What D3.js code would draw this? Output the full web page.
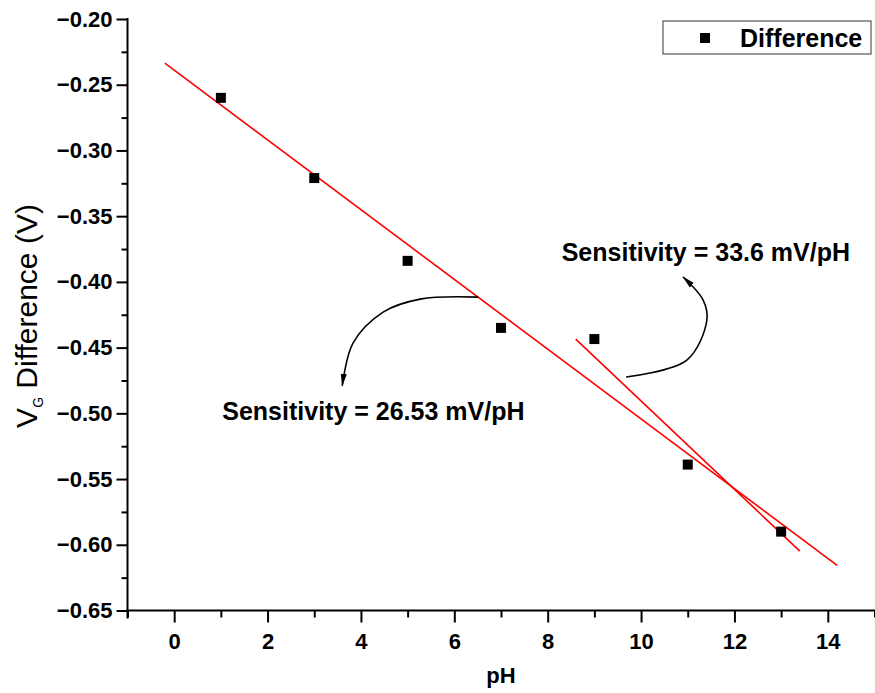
<!DOCTYPE html>
<html>
<head>
<meta charset="utf-8">
<script src="https://cdn.jsdelivr.net/npm/d3@7"></script>
<style>
  html, body { margin: 0; padding: 0; background: #fff; }
  svg { display: block; font-family: "Liberation Sans", Arial, sans-serif; }
</style>
</head>
<body>
<svg id="chart" width="875" height="693"></svg>
<script>
// Measured gate-voltage difference versus pH
const phValues = [1, 3, 5, 7, 9, 11, 13];
const vgDifference = [-0.260, -0.321, -0.384, -0.435, -0.4435, -0.539, -0.590];

// Axis ticks
const xTickValues = [0, 2, 4, 6, 8, 10, 12, 14];
const yTickValues = [-0.20, -0.25, -0.30, -0.35, -0.40, -0.45, -0.50, -0.55, -0.60, -0.65];

// Linear fits: sensitivity (mV/pH), which points each fit covers, and the drawn pH span
const fitSensitivity = [26.53, 33.6];
const fitPointIndex = [[0, 1, 2, 3, 4, 5, 6], [4, 5, 6]];
const fitSpan = [[-0.2, 14.2], [8.6, 13.4]];

// Annotation labels and their curved arrows (in data units: pH, V)
const noteText = ["Sensitivity = 26.53 mV/pH", "Sensitivity = 33.6 mV/pH"];
const noteAnchor = [[1.03, -0.5052], [8.3, -0.3842]];
const arrowPath1 = [[6.51, -0.4116], [5.27, -0.4131], [4.475, -0.423], [3.83, -0.4466], [3.6, -0.479]];
const arrowPath2 = [[9.68, -0.4724], [10.98, -0.4595], [11.41, -0.429], [11.33, -0.4139], [10.9, -0.3963]];

const svg = d3.select("#chart");
const plotLeft = 127.5, plotRight = 874.5, plotTop = 19, plotBottom = 610.5;

const x = d3.scaleLinear().domain([-1, 15]).range([plotLeft, plotRight]);
const y = d3.scaleLinear().domain([-0.20, -0.65]).range([plotTop, plotBottom]);

const tickFont = "bold 22px 'Liberation Sans', Arial, sans-serif";
const noteFont = "bold 25px 'Liberation Sans', Arial, sans-serif";

// Minor ticks
const xMinor = d3.range(-1, 15.01, 1).filter(v => Math.abs(v % 2) === 1);
const yMinor = d3.range(0, 9).map(i => -0.225 - 0.05 * i);

// X axis
const xAxisG = svg.append("g").attr("transform", `translate(0,${plotBottom})`);
xAxisG.append("g")
  .call(d3.axisBottom(x).tickValues(xMinor).tickSize(7).tickFormat(""))
  .call(g => g.select(".domain").remove())
  .selectAll("line").attr("stroke", "#000").attr("stroke-width", 2);
xAxisG.append("g")
  .call(d3.axisBottom(x).tickValues(xTickValues).tickSize(12).tickPadding(11).tickFormat(d3.format("d")))
  .call(g => g.select(".domain").remove())
  .call(g => g.selectAll("line").attr("stroke", "#000").attr("stroke-width", 2))
  .call(g => g.selectAll("text").attr("fill", "#000").style("font", tickFont));
xAxisG.append("line").attr("x1", plotLeft - 1).attr("x2", plotRight + 2)
  .attr("stroke", "#000").attr("stroke-width", 2);

// Y axis
const yAxisG = svg.append("g").attr("transform", `translate(${plotLeft},0)`);
yAxisG.append("g")
  .call(d3.axisLeft(y).tickValues(yMinor).tickSize(6).tickFormat(""))
  .call(g => g.select(".domain").remove())
  .selectAll("line").attr("stroke", "#000").attr("stroke-width", 2);
yAxisG.append("g")
  .call(d3.axisLeft(y).tickValues(yTickValues).tickSize(11).tickPadding(4).tickFormat(d3.format(".2f")))
  .call(g => g.select(".domain").remove())
  .call(g => g.selectAll("line").attr("stroke", "#000").attr("stroke-width", 2))
  .call(g => g.selectAll("text").attr("fill", "#000").style("font", tickFont));
yAxisG.append("line").attr("y1", plotTop - 1).attr("y2", plotBottom + 8)
  .attr("stroke", "#000").attr("stroke-width", 2);

// Axis titles
svg.append("text")
  .attr("x", (x(0) + x(14)) / 2).attr("y", 683)
  .attr("text-anchor", "middle")
  .style("font", "bold 22px 'Liberation Sans', Arial, sans-serif")
  .text("pH");

const yTitle = svg.append("text")
  .attr("transform", `translate(37,${316}) rotate(-90)`)
  .attr("text-anchor", "middle")
  .style("font", "30px 'Liberation Sans', Arial, sans-serif");
yTitle.append("tspan").text("V");
yTitle.append("tspan").attr("dy", 6).style("font-size", "14px").text("G");
yTitle.append("tspan").attr("dy", -6).text(" Difference (V)");

// Fit lines: slope from the stated sensitivity, passing through the mean of the covered points
fitSensitivity.forEach((s, k) => {
  const idx = fitPointIndex[k];
  const mx = d3.mean(idx, i => phValues[i]);
  const my = d3.mean(idx, i => vgDifference[i]);
  const slope = -s / 1000;
  const f = v => my + slope * (v - mx);
  const [a, b] = fitSpan[k];
  svg.append("line")
    .attr("x1", x(a)).attr("y1", y(f(a)))
    .attr("x2", x(b)).attr("y2", y(f(b)))
    .attr("stroke", "#ff0000").attr("stroke-width", 1.6);
});

// Data points
const ms = 10;
svg.append("g").selectAll("rect")
  .data(phValues.map((p, i) => [p, vgDifference[i]]))
  .join("rect")
  .attr("x", d => x(d[0]) - ms / 2)
  .attr("y", d => y(d[1]) - ms / 2)
  .attr("width", ms).attr("height", ms)
  .attr("fill", "#000");

// Arrow heads
const defs = svg.append("defs");
defs.append("marker")
  .attr("id", "arrowhead")
  .attr("viewBox", "0 0 13 8")
  .attr("refX", 12).attr("refY", 4)
  .attr("markerWidth", 13).attr("markerHeight", 8)
  .attr("markerUnits", "userSpaceOnUse")
  .attr("orient", "auto")
  .append("path").attr("d", "M0,1 L13,4 L0,7 Z").attr("fill", "#000");

const curve = d3.line().x(d => x(d[0])).y(d => y(d[1])).curve(d3.curveCatmullRom.alpha(0.5));
[arrowPath1, arrowPath2].forEach(pts => {
  svg.append("path")
    .attr("d", curve(pts))
    .attr("fill", "none").attr("stroke", "#000").attr("stroke-width", 1.6)
    .attr("marker-end", "url(#arrowhead)");
});

// Annotation labels
noteText.forEach((t, k) => {
  svg.append("text")
    .attr("x", x(noteAnchor[k][0])).attr("y", y(noteAnchor[k][1]))
    .style("font", noteFont)
    .text(t);
});

// Legend
const lg = svg.append("g");
lg.append("rect").attr("x", 663).attr("y", 21).attr("width", 208).attr("height", 33)
  .attr("fill", "#fff").attr("stroke", "#555").attr("stroke-width", 1.2);
lg.append("rect").attr("x", 705 - ms / 2).attr("y", 38 - ms / 2).attr("width", ms).attr("height", ms).attr("fill", "#000");
lg.append("text").attr("x", 740).attr("y", 47)
  .style("font", noteFont)
  .text("Difference");
</script>
</body>
</html>
